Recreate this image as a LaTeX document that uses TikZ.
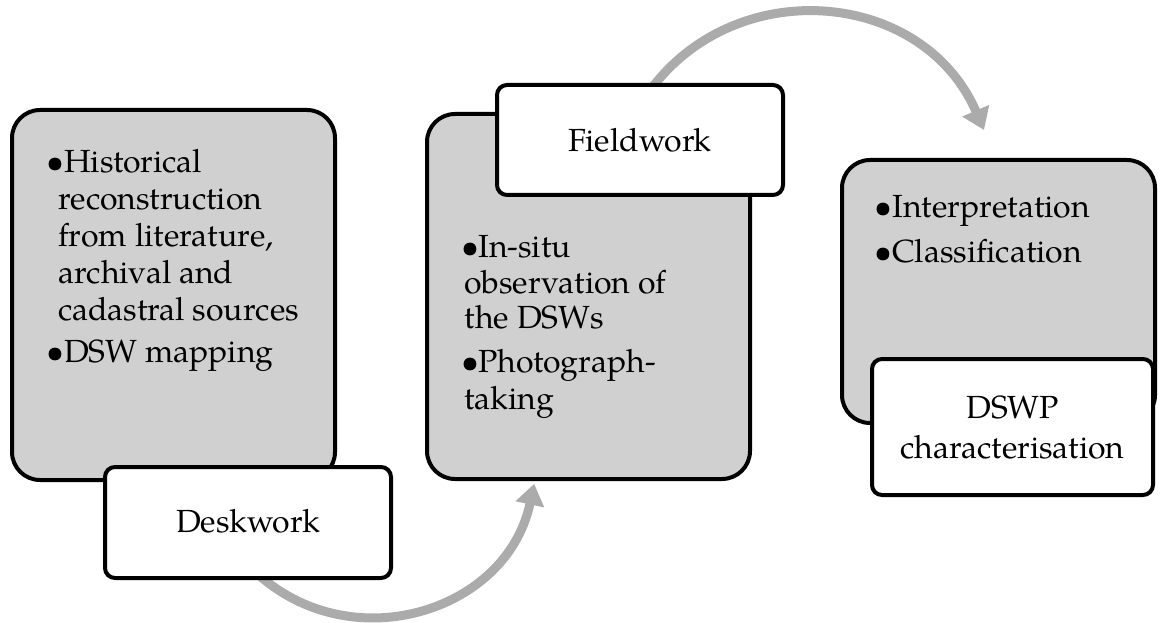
\documentclass[tikz,border=0pt]{standalone}
\usepackage{fontspec}
\setmainfont{TeX Gyre Pagella}
\usetikzlibrary{arrows.meta}
\definecolor{boxgray}{HTML}{D0D0D0}
\definecolor{arrowgray}{HTML}{ABABAB}
\newcommand{\blt}[1]{\makebox[0pt]{•}\hspace*{#1}}
\begin{document}
\begin{tikzpicture}[x=1pt,y=-1pt,
  graybox/.style={draw=black,line width=4pt,fill=boxgray,rounded corners=28pt,inner sep=0pt},
  labelbox/.style={draw=black,line width=4pt,fill=white,rounded corners=10pt,inner sep=0pt},
  txt/.style={inner sep=0pt,font=\fontsize{32pt}{38pt}\selectfont},
  bigarrow/.style={draw=arrowgray,line width=9pt,-{Triangle[length=21pt,width=28pt]}}]
\useasboundingbox (0,0) rectangle (1160,623);
% connectors
\coordinate (a1s) at (250.9,567.6);
\coordinate (a1e) at (534.2,483.8);
\coordinate (a2s) at (637.7,109.3);
\coordinate (a2e) at (984,130);
\draw[bigarrow] (a1s) .. controls (345.2,661.9) and (506.5,614.3) .. (a1e);
\draw[bigarrow] (a2s) .. controls (717.4,-28.7) and (920.6,-16.6) .. (a2e);
% gray boxes
\node[graybox,minimum width=323pt,minimum height=370pt] (b1) at (173.5,295) {};
\node[graybox,minimum width=323pt,minimum height=365pt] (b2) at (588.5,296.5) {};
\node[graybox,minimum width=313pt,minimum height=263pt] (b3) at (998.5,291.5) {};
% label boxes
\node[labelbox,minimum width=286pt,minimum height=111pt] (desk) at (248,522.5) {};
\node[labelbox,minimum width=286pt,minimum height=110pt] (field) at (640,140) {};
\node[labelbox,minimum width=281pt,minimum height=136pt] (dswp) at (1012.5,427) {};
% box 1 text
\node[txt,anchor=base west] (t1a) at (55.5,172) {\blt{8.5pt}Historical};
\node[txt,anchor=base west] (t1b) at (58,209) {reconstruction};
\node[txt,anchor=base west] (t1c) at (58,246) {from literature,};
\node[txt,anchor=base west] (t1d) at (58,283) {archival and};
\node[txt,anchor=base west] (t1e) at (58,320) {cadastral sources};
\node[txt,anchor=base west] (t1f) at (55.5,362) {\blt{8.5pt}DSW mapping};
% box 2 text
\node[txt,anchor=base west] (t2a) at (470.5,257) {\blt{7.5pt}In-situ};
\node[txt,anchor=base west] (t2b) at (464,293) {observation of};
\node[txt,anchor=base west] (t2c) at (464,328) {the DSWs};
\node[txt,anchor=base west] (t2d) at (470.5,372) {\blt{7.5pt}Photograph-};
\node[txt,anchor=base west] (t2e) at (464,409) {taking};
% box 3 text
\node[txt,anchor=base west] (t3a) at (883.5,218) {\blt{8.5pt}Interpretation};
\node[txt,anchor=base west] (t3b) at (883.5,262) {\blt{8.5pt}Classification};
% labels
\node[txt,anchor=base] (ldesk) at (248,532) {Deskwork};
\node[txt,anchor=base] (lfield) at (640,152) {Fieldwork};
\node[txt,anchor=base] (ldswp1) at (1012.5,418) {DSWP};
\node[txt,anchor=base] (ldswp2) at (1012.5,458) {characterisation};
\end{tikzpicture}
\end{document}
